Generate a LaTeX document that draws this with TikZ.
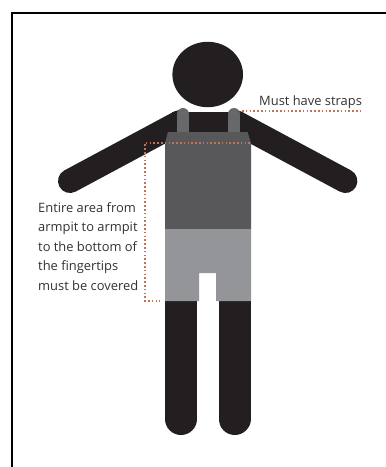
\documentclass[tikz,border=0pt]{standalone}
\usepackage{fontspec}
\setmainfont{Open Sans}
\usepackage{tikz}
\usetikzlibrary{positioning}
\definecolor{figblack}{HTML}{231F20}
\definecolor{bibdark}{HTML}{58585A}
\definecolor{bibstrap}{HTML}{68686A}
\definecolor{shortgrey}{HTML}{939598}
\definecolor{leader}{HTML}{BE7455}

\begin{document}
\begin{tikzpicture}[
		x=1pt, y=-1pt,
		limb/.style={draw=figblack, line width=24pt, line cap=round},
		leg/.style={draw=figblack, line width=32pt, line cap=round},
		strap/.style={draw=bibstrap, line width=12pt, line cap=round},
		dots/.style={draw=leader, line width=1.5pt, dash pattern=on 1.6pt off 2.2pt},
		note/.style={align=left, inner sep=0pt, text=black!80, font=\fontsize{12.9}{19.6}\selectfont}
		]
		\useasboundingbox (0,0) rectangle (386,467);
		\fill[white] (0,0) rectangle (386,467);
		
		% frame
		\draw[black, line width=2pt] (12,467) -- (12,13) -- (386,13);
		
		% figure
		\fill[figblack] (207.7,74.5) ellipse (35.3 and 32.7);
		\draw[limb] (70,181) -- (180,122);
		\draw[limb] (345.4,181) -- (235.4,122);
		\fill[figblack] (172,112) rectangle (243,140);
		\draw[leg] (181,301) -- (181,419);
		\draw[leg] (234.5,301) -- (234.5,419);
		
		% garment
		\draw[strap] (183,114) -- (183,136);
		\draw[strap] (234,114) -- (234,136);
		\fill[bibdark] (168,132) -- (247.5,132) -- (251,143) -- (251,229) -- (165,229) -- (165,143) -- cycle;
		\fill[shortgrey] (165,229) -- (251,229) -- (251,301) -- (216,301) -- (216,273) -- (199,273) -- (199,301) -- (165,301) -- cycle;
		
		% labels
		\node[note, anchor=base west] (straps) at (259,105) {Must have straps};
		\node[note, anchor=north west] (area) at (38,202) {Entire area from\\armpit to armpit\\to the bottom of\\the fingertips\\must be covered};
		
		% leaders
		\coordinate (strapa) at (242,111);
		\coordinate (strapb) at (362,111);
		\coordinate (pita) at (250,143);
		\coordinate (pitb) at (145,143);
		\coordinate (tipa) at (145,301);
		\coordinate (tipb) at (160,301);
		\draw[dots] (strapa) -- (strapb);
		\draw[dots] (pita) -- (pitb) -- (tipa) -- (tipb);
	\end{tikzpicture}
\end{document}
